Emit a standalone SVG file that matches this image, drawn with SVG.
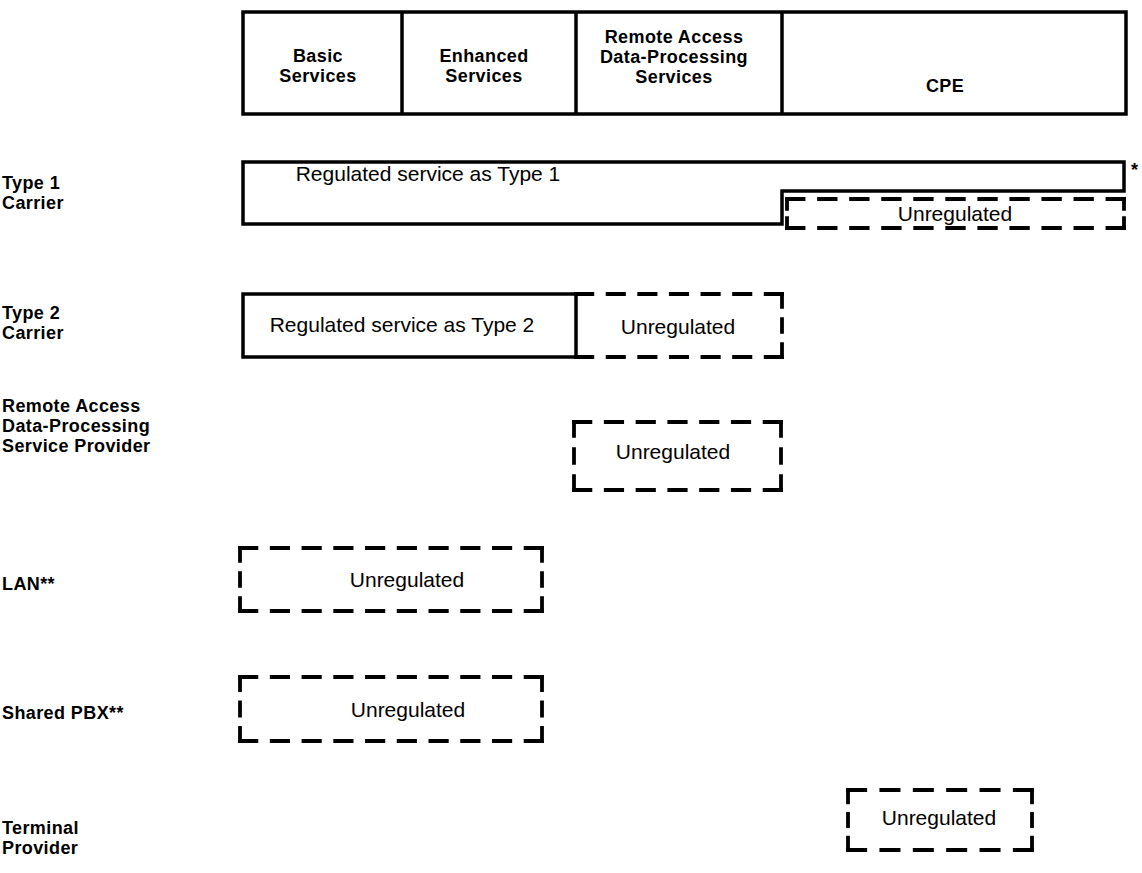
<svg xmlns="http://www.w3.org/2000/svg" width="1142" height="873" viewBox="0 0 1142 873">
  <style>
    .solid { fill: none; stroke: #000; stroke-width: 3.5; stroke-linejoin: miter; }
    .dash { fill: none; stroke: #000; stroke-width: 3.8; stroke-linecap: square; stroke-dasharray: 16 15; }
    .hdr { font-family: "Liberation Sans", Arial, sans-serif; font-weight: bold; font-size: 18px; letter-spacing: 0.4px; text-anchor: middle; fill: #000; }
    .lbl { font-family: "Liberation Sans", Arial, sans-serif; font-weight: bold; font-size: 18px; letter-spacing: 0.4px; fill: #000; }
    .txt { font-family: "Liberation Sans", Arial, sans-serif; font-size: 21px; text-anchor: middle; fill: #000; }
  </style>
  <rect width="1142" height="873" fill="#fff"/>

  <!-- Column header -->
  <g id="header">
    <rect class="solid" x="243" y="12" width="883" height="102"/>
    <line class="solid" x1="402" y1="12" x2="402" y2="114"/>
    <line class="solid" x1="576" y1="12" x2="576" y2="114"/>
    <line class="solid" x1="782" y1="12" x2="782" y2="114"/>
    <text class="hdr" x="318" y="62">Basic</text>
    <text class="hdr" x="318" y="82">Services</text>
    <text class="hdr" x="484" y="62">Enhanced</text>
    <text class="hdr" x="484" y="82">Services</text>
    <text class="hdr" x="674" y="43">Remote Access</text>
    <text class="hdr" x="674" y="63">Data-Processing</text>
    <text class="hdr" x="674" y="83">Services</text>
    <text class="hdr" x="945" y="92">CPE</text>
  </g>

  <!-- Type 1 carrier -->
  <g id="type1">
    <text class="lbl" x="2" y="189">Type 1</text>
    <text class="lbl" x="2" y="209">Carrier</text>
    <path class="solid" d="M243,162 H1124 V191 H782 V224 H243 Z"/>
    <line class="dash" x1="787" y1="199" x2="1124" y2="199" pathLength="326"/>
    <line class="dash" x1="787" y1="228" x2="1124" y2="228" pathLength="326"/>
    <line class="dash" x1="787" y1="199" x2="787" y2="228" pathLength="47"/>
    <line class="dash" x1="1124" y1="199" x2="1124" y2="228" pathLength="47"/>
    <text class="txt" x="428" y="181">Regulated service as Type 1</text>
    <text class="txt" x="955" y="221">Unregulated</text>
    <text class="lbl" x="1131" y="176" font-size="14">*</text>
  </g>

  <!-- Type 2 carrier -->
  <g id="type2">
    <text class="lbl" x="2" y="319">Type 2</text>
    <text class="lbl" x="2" y="339">Carrier</text>
    <rect class="solid" x="243" y="294" width="333" height="63"/>
    <line class="dash" x1="576" y1="294" x2="782" y2="294" pathLength="202"/>
    <line class="dash" x1="576" y1="357" x2="782" y2="357" pathLength="202"/>
    <line class="dash" x1="782" y1="294" x2="782" y2="357" pathLength="78"/>
    <text class="txt" x="402" y="332">Regulated service as Type 2</text>
    <text class="txt" x="678" y="334">Unregulated</text>
  </g>

  <!-- Remote access data-processing service provider -->
  <g id="radp">
    <text class="lbl" x="2" y="412">Remote Access</text>
    <text class="lbl" x="2" y="432">Data-Processing</text>
    <text class="lbl" x="2" y="452">Service Provider</text>
    <line class="dash" x1="574" y1="422" x2="781" y2="422" pathLength="202"/>
    <line class="dash" x1="574" y1="490" x2="781" y2="490" pathLength="202"/>
    <line class="dash" x1="574" y1="422" x2="574" y2="490" pathLength="78"/>
    <line class="dash" x1="781" y1="422" x2="781" y2="490" pathLength="78"/>
    <text class="txt" x="673" y="459">Unregulated</text>
  </g>

  <!-- LAN -->
  <g id="lan">
    <text class="lbl" x="2" y="590">LAN**</text>
    <line class="dash" x1="240" y1="548" x2="542" y2="548" pathLength="295"/>
    <line class="dash" x1="240" y1="611" x2="542" y2="611" pathLength="295"/>
    <line class="dash" x1="240" y1="548" x2="240" y2="611" pathLength="78"/>
    <line class="dash" x1="542" y1="548" x2="542" y2="611" pathLength="78"/>
    <text class="txt" x="407" y="587">Unregulated</text>
  </g>

  <!-- Shared PBX -->
  <g id="pbx">
    <text class="lbl" x="2" y="719">Shared PBX**</text>
    <line class="dash" x1="240" y1="677" x2="542" y2="677" pathLength="295"/>
    <line class="dash" x1="240" y1="741" x2="542" y2="741" pathLength="295"/>
    <line class="dash" x1="240" y1="677" x2="240" y2="741" pathLength="78"/>
    <line class="dash" x1="542" y1="677" x2="542" y2="741" pathLength="78"/>
    <text class="txt" x="408" y="717">Unregulated</text>
  </g>

  <!-- Terminal provider -->
  <g id="terminal">
    <text class="lbl" x="2" y="834">Terminal</text>
    <text class="lbl" x="2" y="854">Provider</text>
    <line class="dash" x1="848" y1="790" x2="1032" y2="790" pathLength="171"/>
    <line class="dash" x1="848" y1="850" x2="1032" y2="850" pathLength="171"/>
    <line class="dash" x1="848" y1="790" x2="848" y2="850" pathLength="78"/>
    <line class="dash" x1="1032" y1="790" x2="1032" y2="850" pathLength="78"/>
    <text class="txt" x="939" y="825">Unregulated</text>
  </g>

  <g id="connectors"/>
</svg>
